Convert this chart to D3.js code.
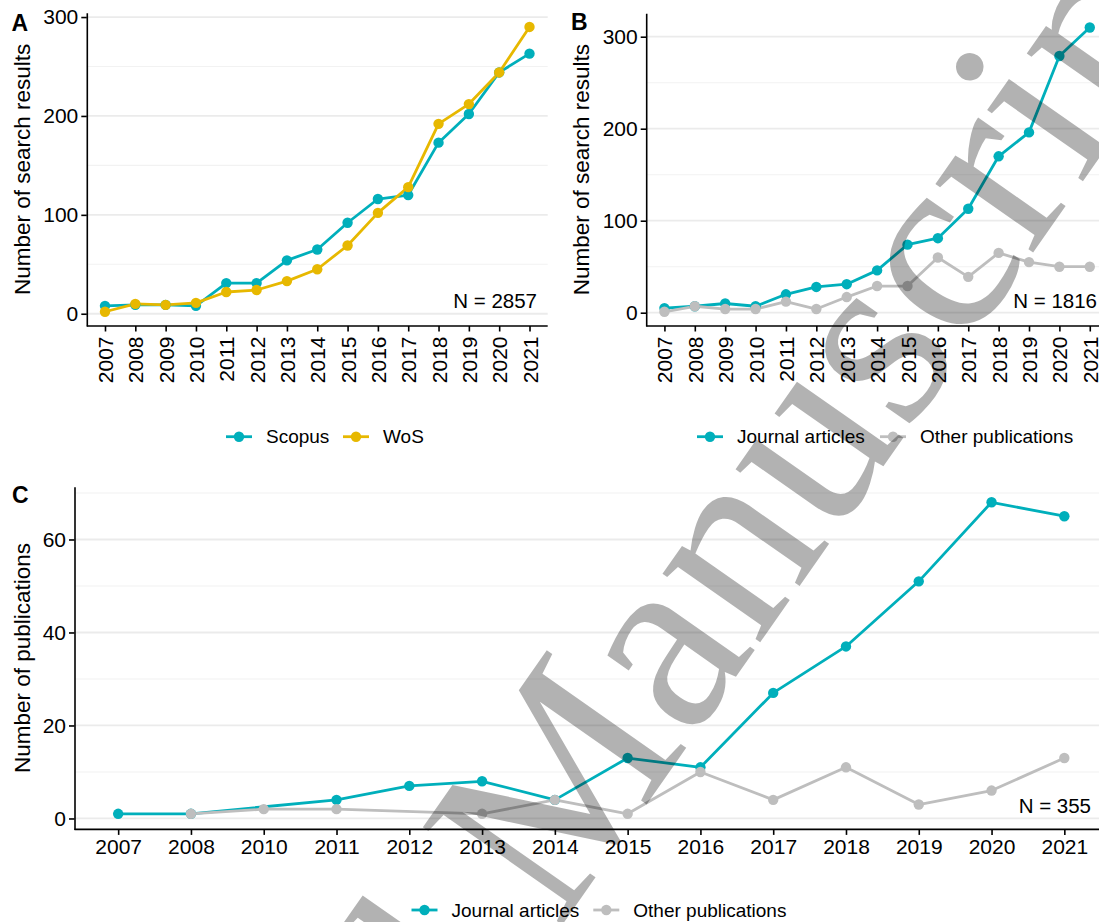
<!DOCTYPE html>
<html><head><meta charset="utf-8">
<script src="https://cdn.jsdelivr.net/npm/d3@7"></script>
<style>
html,body{margin:0;padding:0;background:#fff;}
svg{display:block;}
text{font-family:"Liberation Sans",Arial,Helvetica,sans-serif;}
</style></head>
<body>
<svg id="chart" width="1099" height="922"></svg>
<script>
// ---------- data ----------
const yearsAB = ["2007","2008","2009","2010","2011","2012","2013","2014","2015","2016","2017","2018","2019","2020","2021"];
const scopus  = [8, 9, 9, 8, 31, 31, 54, 65, 92, 116, 120, 173, 202, 244, 263];
const wos     = [2, 10, 9, 11, 22, 24, 33, 45, 69, 102, 128, 192, 212, 244, 290];
const journalB = [5, 7, 10, 7, 20, 28, 31, 46, 74, 81, 113, 170, 196, 279, 310];
const otherB   = [1, 7, 4, 4, 12, 4, 17, 29, 29, 60, 39, 65, 55, 50, 50];
const yearsC = ["2007","2008","2010","2011","2012","2013","2014","2015","2016","2017","2018","2019","2020","2021"];
const journalC = [1, 1, null, 4, 7, 8, 4, 13, 11, 27, 37, 51, 68, 65];
const otherC   = [null, 1, 2, 2, null, 1, 4, 1, 10, 4, 11, 3, 6, 13];
const yTicksAB = [0, 100, 200, 300];
const yMinorAB = [50, 150, 250];
const yTicksC = [0, 20, 40, 60];
const yMinorC = [10, 30, 50, 70];
const namesA = ["Scopus", "WoS"];
const namesBC = ["Journal articles", "Other publications"];
const totalsN = ["N = 2857", "N = 1816", "N = 355"];
const panelLetters = ["A", "B", "C"];
const yTitles = ["Number of search results", "Number of search results", "Number of publications"];

const TEAL = "#00AFBB", GOLD = "#E7B800", GREY = "#BEBEBE";
const svg = d3.select("#chart");

function panel(cfg) {
  const g = svg.append("g");
  const x = d3.scalePoint().domain(cfg.cats).range([cfg.x0, cfg.x1]).padding(0.6);
  const all = cfg.series.flatMap(s => s.values.filter(v => v != null));
  const lo = d3.min(all), hi = d3.max(all), pad = (hi - lo) * 0.05;
  const y = d3.scaleLinear().domain([lo - pad, hi + pad]).range([cfg.y1, cfg.y0]);

  // grid
  g.selectAll(".minor").data(cfg.minor).join("line")
    .attr("x1", cfg.x0).attr("x2", cfg.gridEnd).attr("y1", d => y(d)).attr("y2", d => y(d))
    .attr("stroke", "#f2f2f2").attr("stroke-width", 1.1);
  g.selectAll(".major").data(cfg.ticks).join("line")
    .attr("x1", cfg.x0).attr("x2", cfg.gridEnd).attr("y1", d => y(d)).attr("y2", d => y(d))
    .attr("stroke", "#ebebeb").attr("stroke-width", 1.8);

  // lines then points
  const line = d3.line().x(d => x(d.c)).y(d => y(d.v));
  cfg.series.forEach(s => {
    const pts = cfg.cats.map((c, i) => ({c, v: s.values[i]})).filter(d => d.v != null);
    g.append("path").datum(pts).attr("d", line).attr("fill", "none")
      .attr("stroke", s.color).attr("stroke-width", 2.8).attr("stroke-linejoin", "round");
  });
  cfg.series.forEach(s => {
    const pts = cfg.cats.map((c, i) => ({c, v: s.values[i]})).filter(d => d.v != null);
    g.selectAll(null).data(pts).join("circle")
      .attr("cx", d => x(d.c)).attr("cy", d => y(d.v)).attr("r", 5.2).attr("fill", s.color);
  });

  // axes
  const ax = g.append("g").attr("transform", `translate(0,${cfg.y1})`)
    .call(d3.axisBottom(x).tickSize(5.5).tickSizeOuter(0).tickPadding(cfg.rotate ? 5 : 4));
  ax.select(".domain").attr("d", `M${cfg.x0},0H${cfg.axisEnd}`);
  ax.selectAll("path,line").attr("stroke", "#000").attr("stroke-width", 1.6);
  ax.selectAll("text").style("font-size", "21px").attr("font-family", null).attr("fill", "#000");
  if (cfg.rotate) {
    ax.selectAll("text").attr("transform", "rotate(-90)").attr("x", -10.5).attr("y", 0)
      .attr("dy", "0.36em").attr("text-anchor", "end");
  }
  const ay = g.append("g").attr("transform", `translate(${cfg.x0},0)`)
    .call(d3.axisLeft(y).tickValues(cfg.ticks).tickSize(5.5).tickSizeOuter(0).tickPadding(3));
  ay.selectAll("path,line").attr("stroke", "#000").attr("stroke-width", 1.6);
  ay.selectAll("text").style("font-size", "21px").attr("font-family", null).attr("fill", "#000");

  // titles
  g.append("text").attr("transform", `translate(${cfg.titleX},${(cfg.y0 + cfg.y1) / 2}) rotate(-90)`)
    .attr("text-anchor", "middle").attr("fill", "#000").style("font-size", "22.5px").text(cfg.yTitle);
  g.append("text").attr("x", cfg.letterX).attr("y", cfg.letterY).attr("fill", "#000")
    .style("font-size", "23px").style("font-weight", "bold").text(cfg.letter);
  g.append("text").attr("x", cfg.nX).attr("y", cfg.nY).attr("text-anchor", "end").attr("fill", "#000")
    .style("font-size", "20.5px").text(cfg.nText);

  // legend
  cfg.series.forEach((s, i) => {
    const lx = cfg.legX[i], ly = cfg.legY;
    g.append("line").attr("x1", lx).attr("x2", lx + 26).attr("y1", ly).attr("y2", ly)
      .attr("stroke", s.color).attr("stroke-width", 2.8);
    g.append("circle").attr("cx", lx + 13).attr("cy", ly).attr("r", 5.2).attr("fill", s.color);
    g.append("text").attr("x", lx + 40).attr("y", ly).attr("dy", "0.35em").attr("fill", "#000")
      .style("font-size", "19px").text(s.name);
  });
}

panel({cats: yearsAB, x0: 86.8, x1: 547.7, gridEnd: 547.7, axisEnd: 547.7, y0: 12.7, y1: 326, rotate: true,
  series: [{name: namesA[0], values: scopus, color: TEAL}, {name: namesA[1], values: wos, color: GOLD}],
  ticks: yTicksAB, minor: yMinorAB, yTitle: yTitles[0], titleX: 30, letter: panelLetters[0], letterX: 11.5, letterY: 30.5,
  nText: totalsN[0], nX: 537, nY: 308, legX: [226, 343], legY: 436.7});

panel({cats: yearsAB, x0: 646.2, x1: 1108, gridEnd: 1108, axisEnd: 1108, y0: 13.3, y1: 326, rotate: true,
  series: [{name: namesBC[0], values: journalB, color: TEAL}, {name: namesBC[1], values: otherB, color: GREY}],
  ticks: yTicksAB, minor: yMinorAB, yTitle: yTitles[1], titleX: 589, letter: panelLetters[1], letterX: 571, letterY: 30,
  nText: totalsN[1], nX: 1097, nY: 308, legX: [697, 880], legY: 436.7});

panel({cats: yearsC, x0: 74.5, x1: 1108, gridEnd: 1108, axisEnd: 1108, y0: 486.7, y1: 829.4, rotate: false,
  series: [{name: namesBC[0], values: journalC, color: TEAL}, {name: namesBC[1], values: otherC, color: GREY}],
  ticks: yTicksC, minor: yMinorC, yTitle: yTitles[2], titleX: 30, letter: panelLetters[2], letterX: 12, letterY: 503,
  nText: totalsN[2], nX: 1091, nY: 813, legX: [411.5, 593.3], legY: 910});

// watermark
const wm = svg.append("g").attr("transform", "translate(558,931) rotate(-55)")
  .style("pointer-events", "none");
wm.append("text").attr("text-anchor", "end").style("font-family", "'Liberation Serif','Times New Roman',serif")
  .style("font-size", "260px").style("fill", "rgba(0,0,0,0.3)").text("Accepted\u00A0");
wm.append("text").attr("text-anchor", "start").style("font-family", "'Liberation Serif','Times New Roman',serif")
  .style("font-size", "260px").style("fill", "rgba(0,0,0,0.3)").text("Manuscript");
</script>
</body></html>
